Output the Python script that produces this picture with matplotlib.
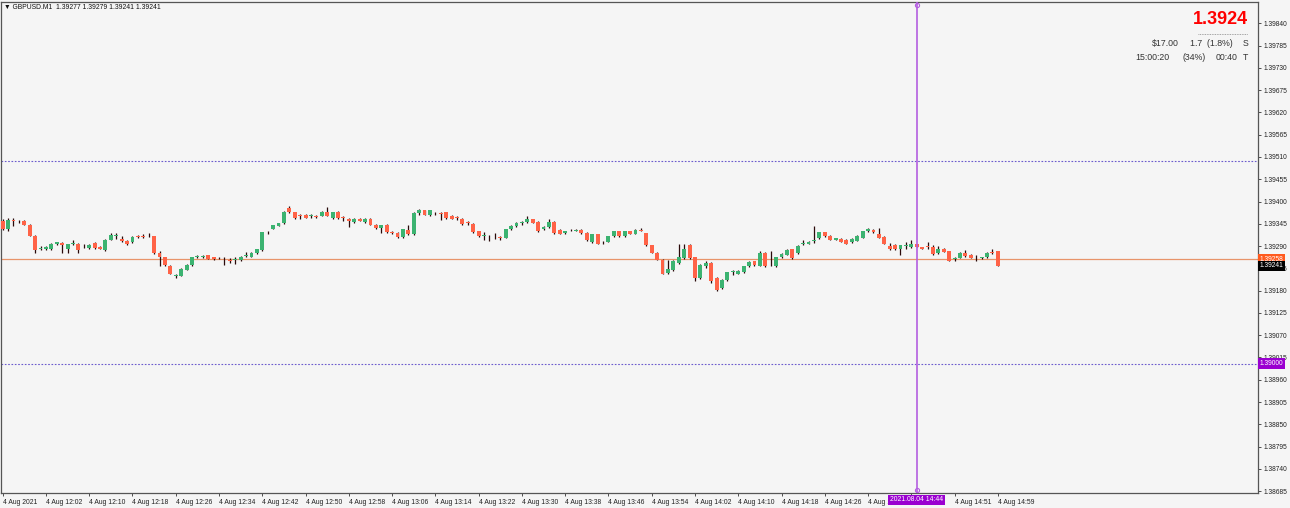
import matplotlib
matplotlib.use("Agg")
import matplotlib.pyplot as plt
import numpy as np

# GBPUSD M1 candles, 4 Aug 2021 11:54 .. 14:59
opens = [1.39353, 1.39332, 1.39355, 1.39352, 1.39353, 1.39343, 1.39315, 1.39284, 1.39282, 1.39282,
         1.39295, 1.39297, 1.39282, 1.39296, 1.39295, 1.39289, 1.39285, 1.39297, 1.39287, 1.39281,
         1.39305, 1.39315, 1.39307, 1.39303, 1.39299, 1.39315, 1.39316, 1.39314, 1.39314, 1.39274,
         1.39262, 1.39241, 1.39217, 1.39217, 1.39232, 1.39243, 1.39264, 1.39263, 1.39268, 1.39263,
         1.39260, 1.39259, 1.39255, 1.39256, 1.39255, 1.39266, 1.39264, 1.39273, 1.39281, 1.39324,
         1.39333, 1.39340, 1.39347, 1.39385, 1.39373, 1.39365, 1.39367, 1.39365, 1.39365, 1.39365,
         1.39374, 1.39359, 1.39374, 1.39361, 1.39357, 1.39349, 1.39357, 1.39350, 1.39358, 1.39343,
         1.39335, 1.39342, 1.39325, 1.39323, 1.39312, 1.39330, 1.39319, 1.39371, 1.39379, 1.39366,
         1.39372, 1.39371, 1.39373, 1.39365, 1.39361, 1.39357, 1.39348, 1.39344, 1.39327,
         1.39315, 1.39313, 1.39314, 1.39313, 1.39311, 1.39331, 1.39339, 1.39347, 1.39349, 1.39356,
         1.39349, 1.39331, 1.39337, 1.39350, 1.39329, 1.39322, 1.39329, 1.39328, 1.39329, 1.39323,
         1.39299, 1.39319, 1.39300, 1.39301, 1.39314, 1.39326, 1.39314, 1.39326, 1.39321, 1.39330,
         1.39322, 1.39292, 1.39274, 1.39256, 1.39223, 1.39230, 1.39248, 1.39260, 1.39293, 1.39262,
         1.39211, 1.39240, 1.39248, 1.39211, 1.39186, 1.39207, 1.39227, 1.39222, 1.39225, 1.39240,
         1.39252, 1.39241, 1.39274, 1.39250, 1.39240, 1.39263, 1.39269, 1.39282, 1.39273, 1.39296,
         1.39296, 1.39302, 1.39310, 1.39324, 1.39315, 1.39305, 1.39308, 1.39305, 1.39299, 1.39303,
         1.39311, 1.39328, 1.39329, 1.39321, 1.39313, 1.39291, 1.39292, 1.39282, 1.39291, 1.39287,
         1.39294, 1.39287, 1.39289, 1.39288, 1.39272, 1.39284, 1.39278, 1.39258, 1.39261, 1.39272,
         1.39269, 1.39261, 1.39260, 1.39262, 1.39276, 1.39277]
highs = [1.39356, 1.39359, 1.39359, 1.39355, 1.39355, 1.39345, 1.39317, 1.39291, 1.39291, 1.39297,
         1.39301, 1.39299, 1.39296, 1.39305, 1.39297, 1.39294, 1.39295, 1.39301, 1.39289, 1.39307,
         1.39322, 1.39322, 1.39314, 1.39305, 1.39315, 1.39317, 1.39319, 1.39322, 1.39315, 1.39277,
         1.39264, 1.39243, 1.39222, 1.39236, 1.39245, 1.39264, 1.39269, 1.39269, 1.39269, 1.39264,
         1.39264, 1.39262, 1.39260, 1.39264, 1.39265, 1.39275, 1.39275, 1.39283, 1.39325, 1.39328,
         1.39343, 1.39347, 1.39376, 1.39388, 1.39374, 1.39370, 1.39368, 1.39368, 1.39367, 1.39376,
         1.39386, 1.39375, 1.39377, 1.39365, 1.39359, 1.39360, 1.39359, 1.39359, 1.39360, 1.39345,
         1.39343, 1.39344, 1.39327, 1.39324, 1.39333, 1.39342, 1.39373, 1.39382, 1.39380, 1.39379,
         1.39374, 1.39374, 1.39374, 1.39367, 1.39364, 1.39359, 1.39351, 1.39346, 1.39328,
         1.39324, 1.39317, 1.39322, 1.39315, 1.39333, 1.39341, 1.39349, 1.39351, 1.39365, 1.39357,
         1.39351, 1.39339, 1.39356, 1.39351, 1.39331, 1.39328, 1.39333, 1.39332, 1.39332, 1.39324,
         1.39320, 1.39320, 1.39303, 1.39316, 1.39328, 1.39328, 1.39328, 1.39328, 1.39332, 1.39334,
         1.39323, 1.39293, 1.39275, 1.39258, 1.39256, 1.39256, 1.39295, 1.39295, 1.39295, 1.39264,
         1.39246, 1.39252, 1.39250, 1.39213, 1.39209, 1.39227, 1.39232, 1.39231, 1.39241, 1.39253,
         1.39254, 1.39277, 1.39276, 1.39277, 1.39264, 1.39273, 1.39282, 1.39284, 1.39292, 1.39305,
         1.39303, 1.39340, 1.39325, 1.39325, 1.39317, 1.39311, 1.39310, 1.39307, 1.39309, 1.39317,
         1.39328, 1.39335, 1.39331, 1.39335, 1.39314, 1.39298, 1.39294, 1.39293, 1.39299, 1.39305,
         1.39296, 1.39288, 1.39299, 1.39292, 1.39289, 1.39286, 1.39279, 1.39264, 1.39275, 1.39280,
         1.39271, 1.39268, 1.39264, 1.39276, 1.39282, 1.39279]
lows = [1.39330, 1.39328, 1.39340, 1.39347, 1.39342, 1.39314, 1.39274, 1.39281, 1.39281, 1.39281,
        1.39292, 1.39273, 1.39273, 1.39292, 1.39273, 1.39285, 1.39283, 1.39283, 1.39282, 1.39279,
        1.39304, 1.39307, 1.39301, 1.39292, 1.39297, 1.39310, 1.39310, 1.39312, 1.39270, 1.39241,
        1.39242, 1.39220, 1.39211, 1.39215, 1.39230, 1.39242, 1.39260, 1.39261, 1.39257, 1.39255,
        1.39258, 1.39244, 1.39248, 1.39246, 1.39253, 1.39263, 1.39263, 1.39271, 1.39279, 1.39321,
        1.39332, 1.39339, 1.39345, 1.39372, 1.39358, 1.39358, 1.39359, 1.39360, 1.39360, 1.39364,
        1.39365, 1.39357, 1.39357, 1.39353, 1.39337, 1.39347, 1.39351, 1.39348, 1.39342, 1.39333,
        1.39322, 1.39323, 1.39320, 1.39310, 1.39310, 1.39318, 1.39318, 1.39367, 1.39366, 1.39365,
        1.39367, 1.39355, 1.39358, 1.39356, 1.39355, 1.39343, 1.39341, 1.39323, 1.39313,
        1.39305, 1.39303, 1.39307, 1.39304, 1.39310, 1.39330, 1.39338, 1.39342, 1.39348, 1.39346,
        1.39325, 1.39329, 1.39335, 1.39321, 1.39320, 1.39321, 1.39326, 1.39326, 1.39321, 1.39302,
        1.39297, 1.39295, 1.39294, 1.39300, 1.39313, 1.39313, 1.39313, 1.39319, 1.39319, 1.39326,
        1.39290, 1.39272, 1.39255, 1.39221, 1.39222, 1.39228, 1.39246, 1.39259, 1.39259, 1.39204,
        1.39209, 1.39236, 1.39200, 1.39180, 1.39185, 1.39205, 1.39219, 1.39220, 1.39223, 1.39239,
        1.39242, 1.39240, 1.39238, 1.39240, 1.39238, 1.39261, 1.39268, 1.39258, 1.39271, 1.39293,
        1.39295, 1.39297, 1.39308, 1.39312, 1.39304, 1.39304, 1.39300, 1.39295, 1.39297, 1.39302,
        1.39310, 1.39324, 1.39323, 1.39310, 1.39294, 1.39280, 1.39281, 1.39268, 1.39284, 1.39286,
        1.39287, 1.39283, 1.39282, 1.39269, 1.39270, 1.39275, 1.39252, 1.39253, 1.39260, 1.39264,
        1.39260, 1.39253, 1.39259, 1.39261, 1.39270, 1.39241]
closes = [1.39332, 1.39355, 1.39353, 1.39351, 1.39343, 1.39315, 1.39281, 1.39286, 1.39287, 1.39295,
          1.39299, 1.39293, 1.39294, 1.39297, 1.39281, 1.39291, 1.39293, 1.39285, 1.39283, 1.39305,
          1.39318, 1.39317, 1.39302, 1.39296, 1.39313, 1.39312, 1.39312, 1.39315, 1.39273, 1.39262,
          1.39244, 1.39222, 1.39218, 1.39233, 1.39243, 1.39263, 1.39265, 1.39266, 1.39259, 1.39257,
          1.39261, 1.39257, 1.39254, 1.39258, 1.39264, 1.39268, 1.39273, 1.39282, 1.39324, 1.39325,
          1.39342, 1.39346, 1.39374, 1.39374, 1.39360, 1.39364, 1.39360, 1.39366, 1.39362, 1.39374,
          1.39365, 1.39373, 1.39359, 1.39360, 1.39353, 1.39358, 1.39353, 1.39356, 1.39343, 1.39335,
          1.39342, 1.39324, 1.39322, 1.39312, 1.39331, 1.39319, 1.39371, 1.39378, 1.39367, 1.39378,
          1.39371, 1.39370, 1.39359, 1.39358, 1.39360, 1.39345, 1.39347, 1.39324, 1.39315,
          1.39316, 1.39312, 1.39315, 1.39311, 1.39331, 1.39339, 1.39347, 1.39348, 1.39356, 1.39347,
          1.39327, 1.39337, 1.39350, 1.39322, 1.39321, 1.39327, 1.39330, 1.39329, 1.39323, 1.39304,
          1.39319, 1.39296, 1.39299, 1.39315, 1.39326, 1.39314, 1.39326, 1.39321, 1.39330, 1.39328,
          1.39292, 1.39273, 1.39256, 1.39222, 1.39233, 1.39252, 1.39264, 1.39282, 1.39260, 1.39211,
          1.39244, 1.39248, 1.39203, 1.39181, 1.39207, 1.39226, 1.39229, 1.39229, 1.39240, 1.39251,
          1.39244, 1.39273, 1.39240, 1.39251, 1.39263, 1.39270, 1.39281, 1.39260, 1.39291, 1.39297,
          1.39301, 1.39305, 1.39324, 1.39314, 1.39305, 1.39310, 1.39301, 1.39296, 1.39307, 1.39315,
          1.39327, 1.39331, 1.39324, 1.39311, 1.39295, 1.39284, 1.39282, 1.39292, 1.39292, 1.39294,
          1.39288, 1.39284, 1.39288, 1.39270, 1.39284, 1.39276, 1.39253, 1.39259, 1.39273, 1.39265,
          1.39261, 1.39260, 1.39263, 1.39274, 1.39273, 1.39241]

xtick_labels = ["4 Aug 2021", "4 Aug 12:02", "4 Aug 12:10", "4 Aug 12:18", "4 Aug 12:26",
                "4 Aug 12:34", "4 Aug 12:42", "4 Aug 12:50", "4 Aug 12:58", "4 Aug 13:06",
                "4 Aug 13:14", "4 Aug 13:22", "4 Aug 13:30", "4 Aug 13:38", "4 Aug 13:46",
                "4 Aug 13:54", "4 Aug 14:02", "4 Aug 14:10", "4 Aug 14:18", "4 Aug 14:26",
                "4 Aug 14:34", "", "4 Aug 14:51", "4 Aug 14:59"]   # 14:43 sits under the time tag

level_high = 1.39500
level_low = 1.39000
ask_price = 1.39258
bid_price = 1.39241
vline_bar = 169
vline_label = "2021.08.04 14:44"

BG = "#f5f5f5"
BULL = "#3cb371"
BEAR = "#ff6347"
WICK = "#2a0a0a"
FONT = "Liberation Sans"

fig = plt.figure(figsize=(12.9, 5.08), dpi=100, facecolor=BG)
ax = fig.add_axes([1 / 1290, 1 - 493 / 508, 1257 / 1290, 491 / 508])
ax.set_facecolor(BG)

o = np.array(opens)
c = np.array(closes)
x = np.arange(len(o))
colors = np.where(c >= o, BULL, BEAR)
ax.vlines(x, lows, highs, color=WICK, lw=0.9, zorder=3)
body = np.maximum(np.abs(c - o), 0.000015)
ax.bar(x, body, bottom=np.minimum(o, c), width=0.72, color=colors, lw=0, zorder=4)

# levels
ax.axhline(level_high, color="#6a5acd", lw=0.8, ls=(0, (1.5, 1.5)), zorder=1)
ax.axhline(level_low, color="#6a5acd", lw=0.8, ls=(0, (1.5, 1.5)), zorder=1)
ax.axhline(ask_price, color="#e8946a", lw=0.9, zorder=2)
ax.axvline(vline_bar, color="#b45ee0", lw=1.2, zorder=5)

ax.set_xlim(-0.31, 232.1)
ax.set_ylim(1.386805, 1.398925)

ax.yaxis.tick_right()
yt = np.round(1.38685 + 0.00055 * np.arange(22), 5)
ax.set_yticks(yt)
ax.set_yticklabels([f"{v:.5f}" for v in yt], fontsize=4.8, family=FONT, color="#222222")
ax.set_xticks(np.arange(0, len(o), 8))
ax.set_xticklabels(xtick_labels, fontsize=4.9, family=FONT, color="#222222", ha="left")
ax.tick_params(axis="both", length=2.5, width=0.6, color="#333333", pad=1.5)
for s in ax.spines.values():
    s.set_color("#555555")
    s.set_linewidth(0.9)

# end markers on the vertical line
ax.plot([vline_bar], [1.39884], marker="o", ms=3, mfc="none", mec="#b45ee0", mew=0.8,
        zorder=6, clip_on=False)
ax.plot([vline_bar], [1.38688], marker="o", ms=3, mfc="none", mec="#b45ee0", mew=0.8,
        zorder=6, clip_on=False)

# price tags on the right
yt_tr = ax.get_yaxis_transform()
for price, fc in [(ask_price, "#ff5a1e"), (bid_price, "#000000"), (level_low, "#9a00d0")]:
    ax.text(1.0015, price, f"{price:.5f}", transform=yt_tr, fontsize=4.8, family=FONT,
            color="white", va="center", ha="left", zorder=10,
            bbox=dict(boxstyle="square,pad=0.25", fc=fc, ec="none"))

# time tag on the bottom
ax.text(vline_bar, -0.014, vline_label, transform=ax.get_xaxis_transform(), fontsize=4.9,
        family=FONT, color="white", ha="center", va="center", zorder=10,
        bbox=dict(boxstyle="square,pad=0.25", fc="#9a00d0", ec="none"), clip_on=False)

# header
fig.text(4 / 1290, 1 - 7 / 508, "\u25bc GBPUSD.M1  1.39277 1.39279 1.39241 1.39241",
         fontsize=4.9, family=[FONT, "DejaVu Sans"], color="#111111", va="center", ha="left")

# info block top right
fig.text(1248 / 1290, 1 - 20 / 508, "1.3924", fontsize=13, weight="bold", family=FONT,
         color="#ff0000", ha="right", va="center")
fig.add_artist(plt.Line2D([1198 / 1290, 1248 / 1290], [1 - 33.5 / 508] * 2, color="#888888",
                          lw=0.6, ls=(0, (1, 1))))
info = [(1179, 43.5, "$17.00"), (1233, 43.5, "1.7  (1.8%)"), (1248, 43.5, "S"),
        (1169, 57.5, "15:00:20"), (1206, 57.5, "(34%)"), (1238, 57.5, "00:40"),
        (1248, 57.5, "T")]
for px, py, s in info:
    fig.text(px / 1290, 1 - py / 508, s, fontsize=6.3, family=FONT, color="#333333",
             ha="right", va="center")

fig.savefig("out.png", dpi=100, facecolor=BG)
